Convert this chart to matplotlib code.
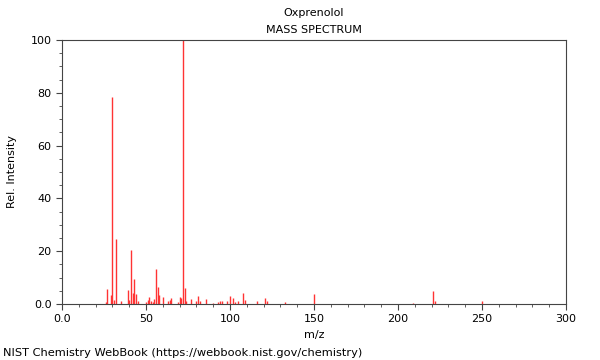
import matplotlib
matplotlib.use('Agg')
import matplotlib.pyplot as plt
from matplotlib.ticker import MultipleLocator, FixedLocator

# peaks (m/z, relative intensity)
mz = [26, 27, 29, 30, 31, 32, 35, 39, 40, 41, 42, 43, 44, 45,
      50, 51, 52, 53, 54, 55, 56, 57, 58, 60, 63, 64, 65,
      69, 70, 71, 72, 73, 74, 77, 80, 81, 82, 86, 90, 93, 94, 95,
      98, 100, 102, 103, 105, 108, 109, 116, 121, 122, 133, 150,
      209, 221, 222, 250]
intensity = [0.9, 5.7, 3.4, 78.5, 1.5, 24.7, 1.0, 5.3, 1.5, 20.4, 4.3, 9.4, 3.8, 1.0,
             0.7, 1.5, 2.8, 1.3, 0.7, 1.8, 13.3, 6.6, 3.3, 2.5, 1.3, 1.5, 2.2,
             0.9, 2.5, 2.2, 100.0, 6.2, 1.3, 2.0, 1.3, 3.0, 1.0, 2.0, 0.5, 0.8, 1.0, 1.0,
             1.3, 3.2, 2.1, 0.6, 1.0, 4.3, 1.5, 1.3, 2.4, 1.3, 0.8, 3.8,
             0.5, 4.9, 1.0, 1.0]

x_ticks = [0, 50, 100, 150, 200, 250, 300]
x_labels = ['0.0', '50', '100', '150', '200', '250', '300']
y_ticks = [0, 20, 40, 60, 80, 100]
y_labels = ['0.0', '20', '40', '60', '80', '100']

fig = plt.figure(figsize=(6, 3.6), dpi=100)
ax = fig.add_axes([62 / 600, 1 - 304 / 360, 504 / 600, 264 / 360])

ax.vlines(mz, 0, intensity, color='#ff3333', linewidth=1.0)

ax.set_xlim(0, 300)
ax.set_ylim(0, 100)
ax.xaxis.set_major_locator(FixedLocator(x_ticks))
ax.set_xticklabels(x_labels)
ax.yaxis.set_major_locator(FixedLocator(y_ticks))
ax.set_yticklabels(y_labels)
ax.xaxis.set_minor_locator(MultipleLocator(10))
ax.yaxis.set_minor_locator(MultipleLocator(5))
ax.tick_params(which='both', direction='out', labelsize=8, color='#444444')
ax.tick_params(which='major', length=4)
ax.tick_params(which='minor', length=2)
for s in ax.spines.values():
    s.set_color('#444444')

ax.set_xlabel('m/z', fontsize=8, labelpad=4)
ax.set_ylabel('Rel. Intensity', fontsize=8, labelpad=10)

cx = (62 + 566) / 2 / 600
fig.text(cx, 1 - 13 / 360, 'Oxprenolol', ha='center', va='center', fontsize=8)
fig.text(cx, 1 - 30 / 360, 'MASS SPECTRUM', ha='center', va='center', fontsize=8)
fig.text(3 / 600, 1 - 353 / 360, 'NIST Chemistry WebBook (https://webbook.nist.gov/chemistry)',
         ha='left', va='center', fontsize=8.2)

fig.savefig('out.png', dpi=100)
